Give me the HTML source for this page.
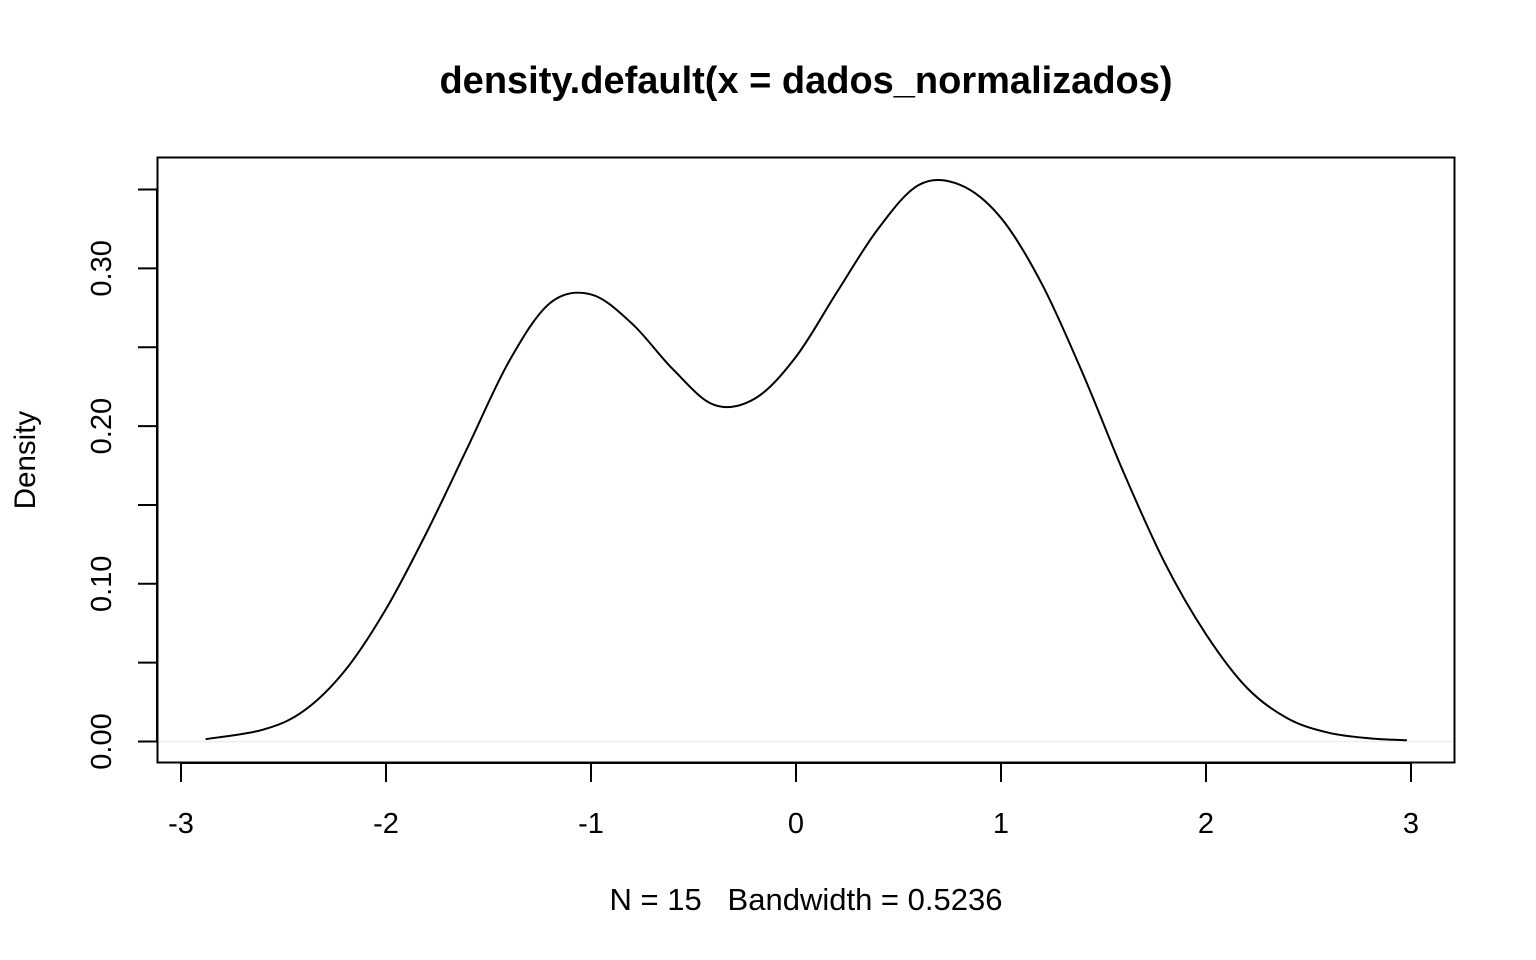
<!DOCTYPE html>
<html><head><meta charset="utf-8"><style>
html,body{margin:0;padding:0;background:#fff;}
svg{display:block;font-family:"Liberation Sans",Arial,sans-serif;}
</style></head><body>
<svg id="chart" width="1536" height="960" viewBox="0 0 1536 960">
<text x="806" y="93" text-anchor="middle" font-size="38" font-weight="bold">density.default(x = dados_normalizados)</text>
<text x="806" y="910" text-anchor="middle" font-size="31" xml:space="preserve" style="white-space:pre">N = 15   Bandwidth = 0.5236</text>
<text transform="translate(35,460) rotate(-90)" text-anchor="middle" font-size="29.5">Density</text>
<line x1="157" x2="1455" y1="741.5" y2="741.5" stroke="#eeeeee" stroke-width="1.5"/>
<rect x="157.5" y="157.5" width="1297" height="605" fill="none" stroke="#000" stroke-width="2"/>
<g id="xaxis"></g>
<g id="yaxis"></g>
<path id="curve" fill="none" stroke="#000" stroke-width="2"/>
</svg>
<script>
const xValues=[-2.88,-2.6,-2.4,-2.2,-2.0,-1.8,-1.6,-1.4,-1.2,-1.0,-0.8,-0.6,-0.4,-0.2,0,0.2,0.4,0.6,0.8,1.0,1.2,1.4,1.6,1.8,2.0,2.2,2.4,2.6,2.8,2.98];
const densityValues=[0.0015,0.0075,0.0195,0.045,0.084,0.133,0.187,0.241,0.278,0.2835,0.265,0.236,0.2135,0.2175,0.244,0.285,0.325,0.353,0.353,0.332,0.290,0.233,0.170,0.113,0.068,0.034,0.0145,0.0055,0.002,0.0008];
const xTicks=[-3,-2,-1,0,1,2,3];
const xTickLabels=["-3","-2","-1","0","1","2","3"];
const yTicks=[0,0.05,0.10,0.15,0.20,0.25,0.30,0.35];
const yLabelTicks=[0,0.10,0.20,0.30];
const yTickLabels=["0.00","0.10","0.20","0.30"];
const sx=v=>796+v*205;
const sy=v=>741.5-v*1577;
const NS="http://www.w3.org/2000/svg";
const xa=document.getElementById('xaxis'),ya=document.getElementById('yaxis');
function mk(t,a,p){const e=document.createElementNS(NS,t);for(const k in a)e.setAttribute(k,a[k]);p.appendChild(e);return e;}
const xl=mk('line',{x1:sx(-3),x2:sx(3),y1:763,y2:763,stroke:'#000','stroke-width':2},xa);


xTicks.forEach((v,i)=>{
 const t=mk('line',{x1:sx(v),x2:sx(v),y1:763,y2:782,stroke:'#000','stroke-width':2},xa);
 
 
 const l=mk('text',{x:sx(v),y:833,'text-anchor':'middle','font-size':29},xa);
 l.textContent=xTickLabels[i];
 
 
});
const yl=mk('line',{x1:157,x2:157,y1:sy(0),y2:sy(0.35),stroke:'#000','stroke-width':2},ya);


yTicks.forEach(v=>{
 const t=mk('line',{x1:138,x2:157,y1:sy(v),y2:sy(v),stroke:'#000','stroke-width':2},ya);
 
 
});
yLabelTicks.forEach((v,i)=>{
 const l=mk('text',{transform:`translate(111,${sy(v)}) rotate(-90)`,'text-anchor':'middle','font-size':29},ya);
 l.textContent=yTickLabels[i];
 
 
});
const P=xValues.map((x,i)=>[sx(x),sy(densityValues[i])]);
let d=`M${P[0][0]},${P[0][1]}`;
for(let i=0;i<P.length-1;i++){
 const p0=P[Math.max(i-1,0)],p1=P[i],p2=P[i+1],p3=P[Math.min(i+2,P.length-1)];
 const c1=[p1[0]+(p2[0]-p0[0])/6,p1[1]+(p2[1]-p0[1])/6];
 const c2=[p2[0]-(p3[0]-p1[0])/6,p2[1]-(p3[1]-p1[1])/6];
 d+=` C${c1[0]},${c1[1]} ${c2[0]},${c2[1]} ${p2[0]},${p2[1]}`;
}
document.getElementById('curve').setAttribute('d',d);
</script>
</body></html>
